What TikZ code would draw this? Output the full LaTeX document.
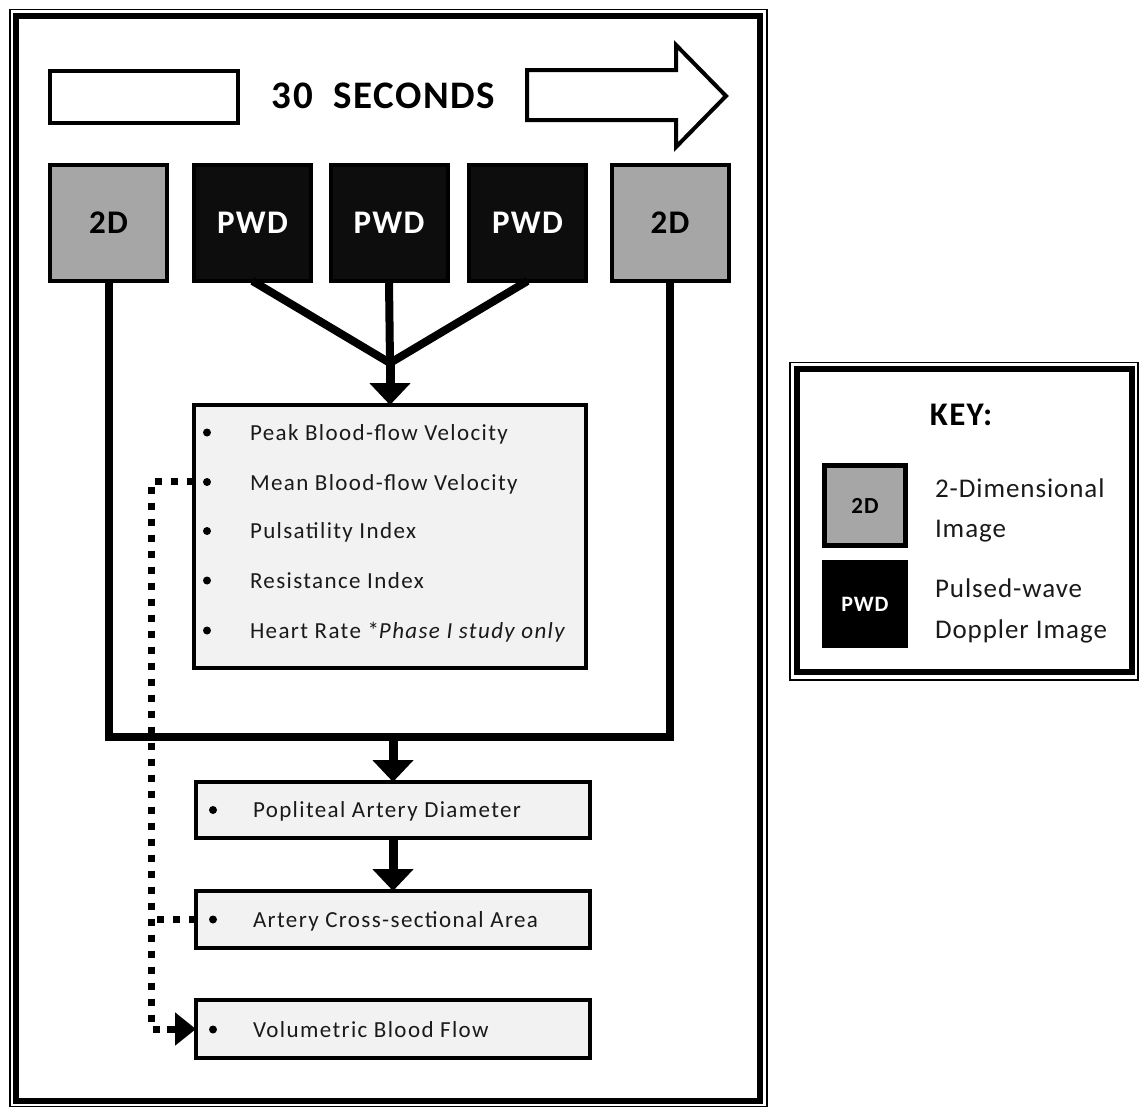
\documentclass[tikz,border=0pt]{standalone}
\usepackage{fontspec}
\usetikzlibrary{arrows.meta}
\newfontfamily\cfa{Carlito}[LetterSpace=6]
\newfontfamily\cfb{Carlito}[LetterSpace=3.5]
\newfontfamily\cfh{Carlito}[LetterSpace=4]
\definecolor{twodgray}{HTML}{A6A6A6}
\definecolor{pwdblack}{HTML}{0D0D0D}
\definecolor{lightfill}{HTML}{F2F2F2}
\definecolor{txt}{HTML}{1A1A1A}
\begin{document}
\begin{tikzpicture}[x=1pt,y=-1pt,
  every node/.style={inner sep=0pt, outer sep=0pt},
  imgbox/.style={draw=black, line width=4pt, minimum width=117pt, minimum height=116pt, font=\cfh\bfseries\fontsize{33}{38}\selectfont},
  twod/.style={imgbox, fill=twodgray, text=black},
  pwd/.style={imgbox, fill=pwdblack, text=white},
  infobox/.style={draw=black, line width=4.5pt, fill=lightfill},
  conn/.style={line width=8pt},
  arr/.style={line width=9pt, -{Triangle[width=40pt,length=22pt]}},
  dotc/.style={line width=7pt, dash pattern=on 7pt off 9pt},
  item/.style={anchor=base west, font=\cfa\fontsize{23}{28}\selectfont, text=txt},
  keytext/.style={anchor=base west, font=\cfb\fontsize{27}{32}\selectfont, text=txt},
  bul/.style={circle, fill=black, minimum size=8pt},
  frameout/.style={line width=1.5pt},
  framein/.style={line width=6pt},
]
\useasboundingbox (0,0) rectangle (1140,1106);

% main frame
\draw[frameout] (10,9.5) rectangle (767,1107);
\draw[framein] (16,15.5) rectangle (760,1101);

% timeline
\draw[line width=4pt, fill=white] (50,71) rectangle (238,123);
\node[anchor=base, font=\cfh\bfseries\fontsize{39}{46}\selectfont] (title) at (383.5,108) {30\ \ SECONDS};
\draw[line width=4pt, fill=white, line join=miter] (527,70) -- (676,70) -- (676,45) -- (726,96) -- (676,147) -- (676,120) -- (527,120) -- cycle;

% image boxes
\node[twod] (L2D) at (108.5,223) {2D};
\node[pwd]  (P1)  at (252.5,223) {PWD};
\node[pwd]  (P2)  at (389,223) {PWD};
\node[pwd]  (P3)  at (527.5,223) {PWD};
\node[twod] (R2D) at (670,223) {2D};

% metrics box
\node[infobox, minimum width=392pt, minimum height=263pt] (metrics) at (390,536.5) {};
\node[bul] (b1) at (207,432.5) {};
\node[bul] (b2) at (207,482) {};
\node[bul] (b3) at (207,531) {};
\node[bul] (b4) at (207,580.5) {};
\node[bul] (b5) at (207,630.5) {};
\node[item] (t1) at (250,440) {Peak Blood-flow Velocity};
\node[item] (t2) at (250,490) {Mean Blood-flow Velocity};
\node[item] (t3) at (250,538) {Pulsatility Index};
\node[item] (t4) at (250,588) {Resistance Index};
\node[item] (t5) at (250,638) {Heart Rate *\textit{Phase I study only}};

% lower boxes
\node[infobox, minimum width=394pt, minimum height=56pt] (pop) at (393,810) {};
\node[infobox, minimum width=394pt, minimum height=57pt] (art) at (393,919.5) {};
\node[infobox, minimum width=394pt, minimum height=58pt] (vol) at (393,1029) {};
\node[bul] (pb) at (213,810) {};
\node[bul] (ab) at (213,919.5) {};
\node[bul] (vb) at (213,1029.5) {};
\node[item] (pt) at (253,817) {Popliteal Artery Diameter};
\node[item] (at) at (253,927) {Artery Cross-sectional Area};
\node[item] (vt) at (253,1037) {Volumetric Blood Flow};

% connectors
\coordinate (conv) at (390,363);
\coordinate (bus) at (393,737);
\coordinate (dj) at (151,481.5);
\draw[conn] (P1.south) -- (conv);
\draw[conn] (P3.south) -- (conv);
\draw[conn] (P2.south) -- (conv);
\draw[arr] (conv) -- (metrics.north);
\draw[conn, line join=miter] (L2D.south) |- (bus) -| (R2D.south);
\draw[arr] (bus) -- (pop.north);
\draw[arr] (pop.south) -- (art.north);
\draw[dotc] (metrics.west |- dj) -- (dj) -- (dj |- vol.west) -- ([xshift=-22pt]vol.west);
\draw[line width=7pt, -{Triangle[width=32pt,length=21pt]}] ([xshift=-29pt]vol.west) -- (vol.west);
\draw[dotc] (art.west) -- (dj |- art.west);

% key
\draw[frameout] (790,362.5) rectangle (1138,680);
\draw[framein] (797,369) rectangle (1131.5,671.5);
\node[anchor=base, font=\cfh\bfseries\fontsize{33}{40}\selectfont] (keyt) at (961,425) {KEY:};
\node[draw=black, line width=5pt, fill=twodgray, minimum width=81pt, minimum height=80pt, font=\cfh\bfseries\fontsize{23}{27}\selectfont] (k2d) at (865,505.5) {2D};
\node[fill=black, text=white, minimum width=86pt, minimum height=88pt, font=\cfh\bfseries\fontsize{22}{26}\selectfont] (kpwd) at (865,604) {PWD};
\node[keytext] (k1) at (935,497) {2-Dimensional};
\node[keytext] (k2) at (935,537) {Image};
\node[keytext] (k3) at (935,597) {Pulsed-wave};
\node[keytext] (k4) at (935,638) {Doppler Image};
\end{tikzpicture}
\end{document}
